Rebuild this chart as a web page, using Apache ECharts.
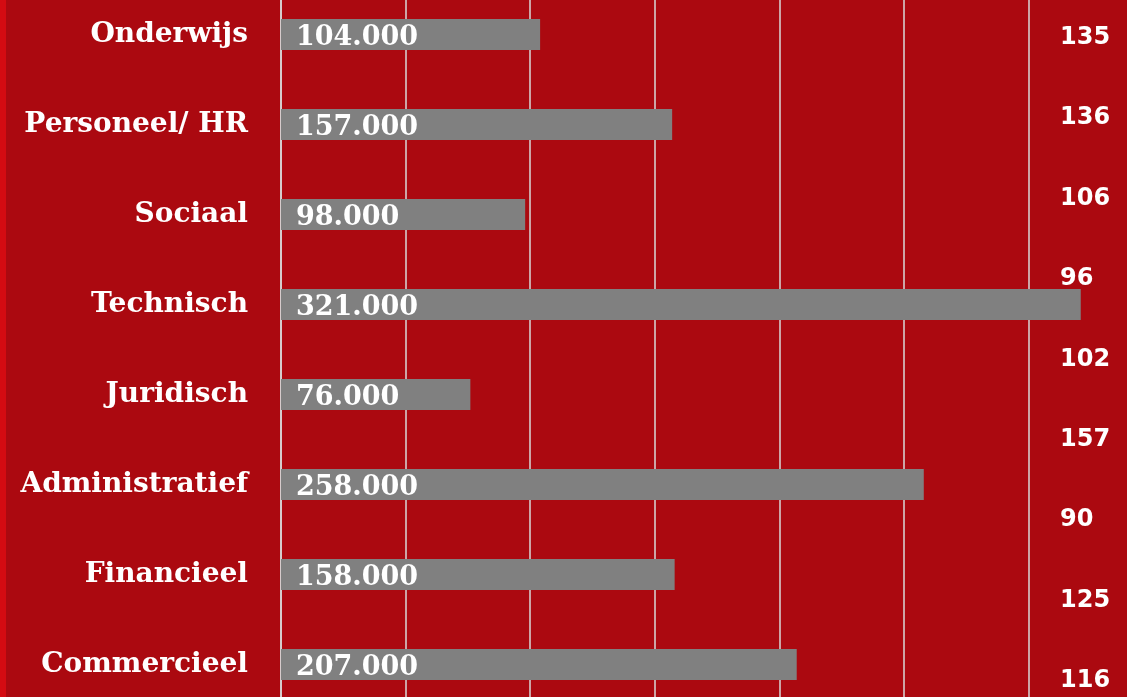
<!DOCTYPE html>
<html>
<head>
    <meta charset="utf-8">
    <title>ECharts</title>
    <script src="https://cdn.jsdelivr.net/npm/echarts@6/dist/echarts.min.js"></script>
</head>
<style>
    *{
        padding: 0;
        margin: 0;
    }
    #main {
        width: 1127px;
        height: 697px;
        position: absolute
    }
</style>
<body>
    <div id="main"></div>
    <script type="text/javascript">
    // categorieën en aantallen
    var categories = ['Onderwijs', 'Personeel/ HR', 'Sociaal', 'Technisch', 'Juridisch', 'Administratief', 'Financieel', 'Commercieel'];
    var values = [104000, 157000, 98000, 321000, 76000, 258000, 158000, 207000];
    // losse getallen rechts
    var sideKeys = ['a', 'b', 'c', 'd', 'e', 'f', 'g', 'h', 'i'];
    var sideValues = [135, 136, 106, 96, 102, 157, 90, 125, 116];

    function dots(v) {
        return String(v).replace(/\B(?=(\d{3})+(?!\d))/g, '.');
    }

    var myChart = echarts.init(document.getElementById('main'));
    var option = {
        backgroundColor: '#ab0910',
        animation: false,
        graphic: [{
            type: 'rect',
            shape: { x: 0, y: 0, width: 6, height: 697 },
            style: { fill: '#d40b12' }
        }],
        grid: [
            { left: 281, top: -10.5, width: 872, height: 720, outerBoundsMode: 'none', containLabel: false },
            { left: 1060, top: -2.7, width: 60, height: 724, outerBoundsMode: 'none', containLabel: false }
        ],
        xAxis: [{
            gridIndex: 0,
            type: 'value',
            min: 0,
            max: 350000,
            interval: 50000,
            axisLabel: { show: false },
            axisTick: { show: false },
            axisLine: { show: false },
            splitLine: { lineStyle: { color: '#d9d9d9', width: 1.5 } }
        }, {
            gridIndex: 1,
            type: 'value',
            min: 0,
            max: 200,
            show: false
        }],
        yAxis: [{
            gridIndex: 0,
            type: 'category',
            data: categories,
            inverse: true,
            axisTick: { show: false },
            axisLine: { show: true, lineStyle: { color: '#d9d9d9', width: 1.5 } },
            axisLabel: {
                color: '#ffffff',
                fontFamily: 'DejaVu Serif',
                fontWeight: 'bold',
                fontSize: 28,
                margin: 33,
                padding: [6, 0, 0, 0]
            }
        }, {
            gridIndex: 1,
            type: 'category',
            data: sideKeys,
            inverse: true,
            show: false
        }],
        series: [{
            type: 'bar',
            xAxisIndex: 0,
            yAxisIndex: 0,
            data: values,
            barWidth: 31,
            itemStyle: { color: '#808080' },
            label: {
                show: true,
                position: 'insideLeft',
                distance: 15,
                offset: [0, 3],
                color: '#ffffff',
                fontFamily: 'DejaVu Serif',
                fontWeight: 'bold',
                fontSize: 27,
                formatter: function (p) { return dots(p.value); }
            }
        }, {
            type: 'bar',
            xAxisIndex: 1,
            yAxisIndex: 1,
            data: sideValues,
            barWidth: 20,
            itemStyle: { color: 'rgba(0,0,0,0)' },
            label: {
                show: true,
                position: 'insideLeft',
                distance: 0,
                color: '#ffffff',
                fontFamily: 'DejaVu Sans',
                fontWeight: 'bold',
                fontSize: 24
            }
        }]
    };
    myChart.setOption(option);
    </script>
</body>
</html>
